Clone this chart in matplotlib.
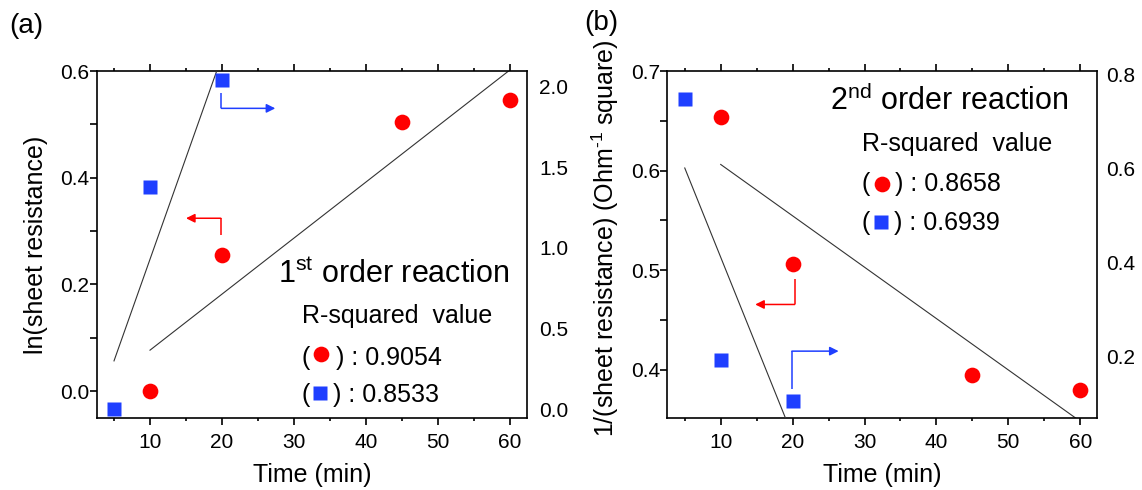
import numpy as np
import matplotlib
matplotlib.use("Agg")
import matplotlib.pyplot as plt

plt.rcParams['font.family'] = ['Liberation Sans', 'DejaVu Sans']
plt.rcParams['mathtext.fontset'] = 'custom'
plt.rcParams['mathtext.rm'] = 'Liberation Sans'
plt.rcParams['mathtext.it'] = 'Liberation Sans:italic'

# data
t_red = [10, 20, 45, 60]
t_blue = [5, 10, 20]
ln_red = [0.0, 0.255, 0.505, 0.545]        # (a) left axis
ln_blue = [0.0, 1.38, 2.04]                # (a) right axis
inv_red = [0.654, 0.506, 0.395, 0.379]     # (b) left axis
inv_blue = [0.748, 0.191, 0.103]           # (b) right axis
r2_a = ["0.9054", "0.8533"]
r2_b = ["0.8658", "0.6939"]

RED = '#ff0000'
BLUE = '#1f3fff'
FIT = '#333333'
ms_c, ms_s = 11.3, 10.3

fig = plt.figure(figsize=(11.42, 4.9), dpi=100)
ax1 = fig.add_axes([0.0847, 0.1463, 0.3770, 0.7088])
ax2 = fig.add_axes([0.5845, 0.1463, 0.3765, 0.7088])


def fit_line(ax, x, y, x0, x1):
    k, b = np.polyfit(x, y, 1)
    xs = np.array([x0, x1])
    ax.plot(xs, k * xs + b, color=FIT, lw=0.8, zorder=2)


def style_main(ax, yticks, ylabels):
    ax.set_xlim(2.6, 62.4)
    ax.set_xticks([10, 20, 30, 40, 50, 60])
    ax.set_xticks([5, 15, 25, 35, 45, 55], minor=True)
    ax.set_yticks(yticks)
    ax.set_yticklabels(ylabels)
    ax.tick_params(which='both', direction='out', top=True, right=True,
                   labelright=False, labelsize=15, width=1.2)
    ax.tick_params(which='major', length=5)
    ax.tick_params(which='minor', length=2.5)
    ax.tick_params(axis='y', pad=0.5)
    ax.tick_params(axis='x', pad=5.5)
    for s in ax.spines.values():
        s.set_linewidth(1.2)
    ax.set_xlabel("Time (min)", fontsize=18)
    ax.xaxis.set_label_coords(0.5, -0.13)


def style_twin(tw, ylim, ticks, labels, pad):
    tw.set_ylim(*ylim)
    tw.set_yticks(ticks)
    tw.set_yticklabels(labels)
    tw.tick_params(axis='y', length=0, pad=pad, labelsize=15)
    for s in tw.spines.values():
        s.set_visible(False)


def r2_block(ax, fx, fy_lines, paren_x, close_x, mk_x, mk_y, vals):
    ax.text(fx, fy_lines[0], "R-squared  value", transform=ax.transAxes,
            fontsize=18, va='baseline', ha='left')
    for i, (mk, col, ms) in enumerate([('o', RED, ms_c), ('s', BLUE, ms_s)]):
        fy = fy_lines[i + 1]
        ax.text(paren_x, fy, "(", transform=ax.transAxes, fontsize=18,
                va='baseline', ha='left')
        ax.text(close_x[i], fy, ") : " + vals[i], transform=ax.transAxes,
                fontsize=18, va='baseline', ha='left')
        ax.plot([mk_x[i]], [mk_y[i]], mk, color=col, ms=ms, mec='none',
                transform=ax.transAxes, clip_on=False)


def l_arrow(ax, x0, y0, y1, x1, col):
    ax.plot([x0, x0], [y0, y1], color=col, lw=1.1, solid_capstyle='butt')
    ax.annotate('', xy=(x1, y1), xytext=(x0, y1),
                arrowprops=dict(arrowstyle='-|>', color=col, lw=1.1,
                                mutation_scale=13, shrinkA=0, shrinkB=0))


# ---- (a) first order
style_main(ax1, np.arange(0, 0.61, 0.1),
           ['0.0', '', '0.2', '', '0.4', '', '0.6'])
ax1.set_ylim(-0.051, 0.6)
ax1.set_ylabel("ln(sheet resistance)", fontsize=18)
ax1.yaxis.set_label_coords(-0.113, 0.5)
tw1 = ax1.twinx()
style_twin(tw1, (-0.056, 2.097), [0, 0.5, 1.0, 1.5, 2.0],
           ['0.0', '0.5', '1.0', '1.5', '2.0'], 8.4)

fit_line(ax1, t_red, ln_red, 10, 60)
fit_line(tw1, t_blue, ln_blue, 5, 20)
ax1.plot(t_red, ln_red, 'o', color=RED, ms=ms_c, mec='none', zorder=3)
tw1.plot(t_blue, ln_blue, 's', color=BLUE, ms=ms_s, mec='none', zorder=3)

l_arrow(ax1, 19.83, 0.2925, 0.324, 15.0, RED)
l_arrow(ax1, 19.9, 0.558, 0.530, 27.4, BLUE)

ax1.text(0.422, 0.389, r"1$^{\mathrm{st}}$ order reaction", transform=ax1.transAxes,
         fontsize=22, va='baseline', ha='left')
r2_block(ax1, 0.476, [0.275, 0.153, 0.048], 0.476, [0.556, 0.549],
         [0.521, 0.519], [0.185, 0.072], r2_a)

# ---- (b) second order
style_main(ax2, np.arange(0.4, 0.701, 0.05),
           ['0.4', '', '0.5', '', '0.6', '', '0.7'])
ax2.set_ylim(0.351, 0.7)
ax2.set_ylabel("1/(sheet resistance) (Ohm$^{\u20101}$ square)", fontsize=18)
ax2.yaxis.set_label_coords(-0.108, 0.519)
tw2 = ax2.twinx()
style_twin(tw2, (0.067, 0.8085), [0.2, 0.4, 0.6, 0.8],
           ['0.2', '0.4', '0.6', '0.8'], 6.5)

fit_line(ax2, t_red, inv_red, 10, 60)
fit_line(tw2, t_blue, inv_blue, 5, 20)
ax2.plot(t_red, inv_red, 'o', color=RED, ms=ms_c, mec='none', zorder=3)
tw2.plot(t_blue, inv_blue, 's', color=BLUE, ms=ms_s, mec='none', zorder=3)

l_arrow(ax2, 20.3, 0.4913, 0.4654, 14.8, RED)
l_arrow(ax2, 19.9, 0.3805, 0.4185, 26.4, BLUE)

ax2.text(0.378, 0.888, r"2$^{\mathrm{nd}}$ order reaction", transform=ax2.transAxes,
         fontsize=22, va='baseline', ha='left')
r2_block(ax2, 0.452, [0.769, 0.655, 0.542], 0.452, [0.529, 0.527],
         [0.498, 0.496], [0.676, 0.566], r2_b)

fig.text(9 / 1142, 1 - 13 / 490, "(a)", fontsize=20, ha='left', va='top')
fig.text(584 / 1142, 1 - 10 / 490, "(b)", fontsize=20, ha='left', va='top')

fig.savefig("out.png", dpi=100)
